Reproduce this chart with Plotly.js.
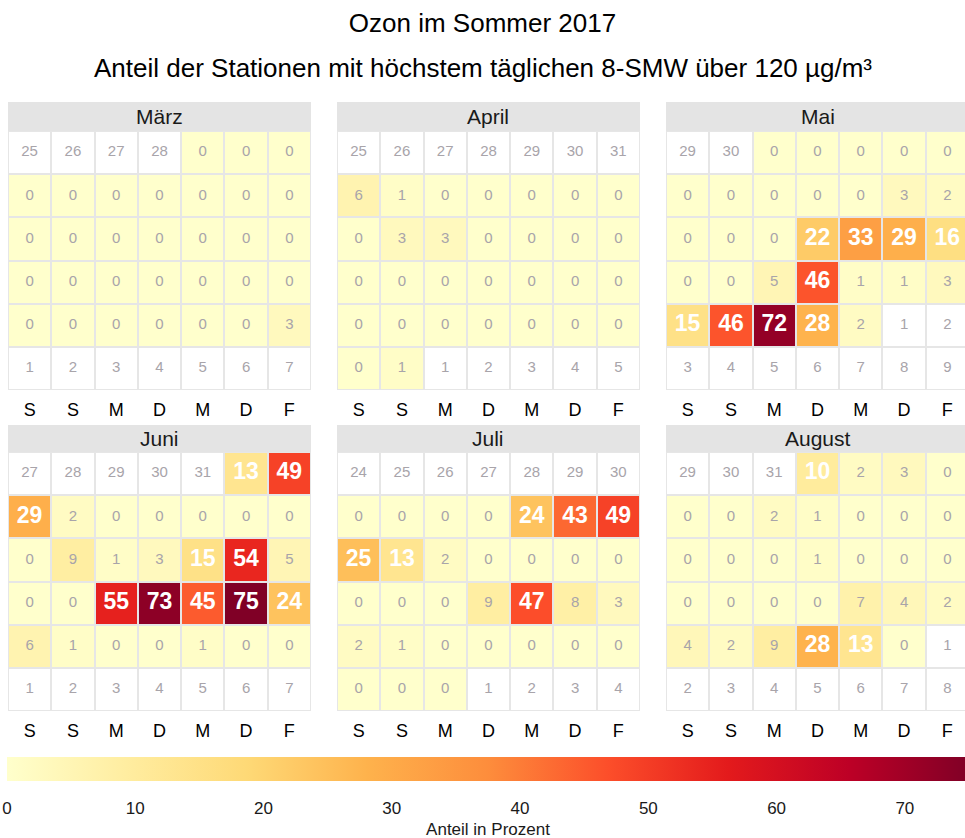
<!DOCTYPE html>
<html>
<head>
<meta charset="utf-8">
<script src="https://cdn.plot.ly/plotly-3.0.1.min.js"></script>
<style>html,body{margin:0;padding:0;background:#fff;}#chart{width:965px;height:838px;}</style>
</head>
<body>
<div id="chart"></div>
<script>
// ---------------- DATA ----------------
const year = 2017;
const monthNames = ['März', 'April', 'Mai', 'Juni', 'Juli', 'August'];
const monthIndex = [2, 3, 4, 5, 6, 7];           // JS month numbers
const weekdayLabels = ['S', 'S', 'M', 'D', 'M', 'D', 'F'];   // Sa..Fr

const valuesMaerz = [0,0,0, 0,0,0,0,0,0,0, 0,0,0,0,0,0,0, 0,0,0,0,0,0,0, 0,0,0,0,0,0,3];
const valuesApril = [6,1,0,0,0,0,0, 0,3,3,0,0,0,0, 0,0,0,0,0,0,0, 0,0,0,0,0,0,0, 0,1];
const valuesMai   = [0,0,0,0,0, 0,0,0,0,0,3,2, 0,0,0,22,33,29,16, 0,0,5,46,1,1,3, 15,46,72,28,2];
const valuesJuni  = [13,49, 29,2,0,0,0,0,0, 0,9,1,3,15,54,5, 0,0,55,73,45,75,24, 6,1,0,0,1,0,0];
const valuesJuli  = [0,0,0,0,24,43,49, 25,13,2,0,0,0,0, 0,0,0,9,47,8,3, 2,1,0,0,0,0,0, 0,0,0];
const valuesAugust= [10,2,3,0, 0,0,2,1,0,0,0, 0,0,0,1,0,0,0, 0,0,0,0,7,4,2, 4,2,9,28,13,0];
const monthValues = [valuesMaerz, valuesApril, valuesMai, valuesJuni, valuesJuli, valuesAugust];

const colorbarTicks = [0, 10, 20, 30, 40, 50, 60, 70];
const colorbarTitle = 'Anteil in Prozent';
const titleText = 'Ozon im Sommer 2017';
const subtitleText = 'Anteil der Stationen mit höchstem täglichen 8-SMW über 120 µg/m³';

// ---------------- STYLE ----------------
const W = 965, H = 838;
const FONT = 'Liberation Sans, Arial, sans-serif';
const ylorrd = ['#ffffcc','#ffeda0','#fed976','#feb24c','#fd8d3c','#fc4e2a','#e31a1c','#bd0026','#800026'];
const colorscale = ylorrd.map((c, i) => [i / (ylorrd.length - 1), c]);
const bigThreshold = 10;
const smallColor = '#a8a4aa';
const gridColor = '#e6e6e6';
const stripColor = '#e4e4e4';

const colPx = [[8, 311], [337, 640], [666, 969]];
const rowPx = [[131, 390], [452, 711]];
const stripPx = [[102, 131], [425, 452]];
const px = v => v / W;
const py = v => 1 - v / H;

const zmax = Math.max(...monthValues.flat());

// ------------- BUILD -------------
function buildCalendar(m, vals) {
  const first = new Date(year, m, 1);
  const offset = ((first.getDay() + 1) % 7) || 7; // Saturday-first weeks, always a leading row
  const z = [], cells = [];
  for (let r = 0; r < 6; r++) {
    const row = [];
    for (let c = 0; c < 7; c++) {
      const d = new Date(year, m, 1 - offset + r * 7 + c);
      const inMonth = d.getMonth() === m;
      const v = inMonth ? vals[d.getDate() - 1] : null;
      row.push(v);
      cells.push({ r, c, inMonth, v, day: d.getDate() });
    }
    z.push(row);
  }
  return { z, cells };
}

const traces = [];
const layout = {
  width: W, height: H,
  margin: { l: 0, r: 0, t: 0, b: 0, autoexpand: false },
  paper_bgcolor: '#ffffff',
  plot_bgcolor: gridColor,
  font: { family: FONT, color: '#000' },
  showlegend: false,
  title: {
    text: titleText,
    font: { family: FONT, size: 26, color: '#000' },
    x: 0.5, xanchor: 'center', xref: 'paper',
    y: py(23), yanchor: 'middle', yref: 'container'
  },
  annotations: [{
    text: subtitleText, xref: 'paper', yref: 'paper', x: 0.5, y: py(68),
    xanchor: 'center', yanchor: 'middle', showarrow: false,
    font: { family: FONT, size: 26, color: '#000' }
  }],
  shapes: []
};

monthNames.forEach((name, i) => {
  const col = i % 3, row = Math.floor(i / 3);
  const xa = 'x' + (i + 1), ya = 'y' + (i + 1);
  const xKey = 'xaxis' + (i + 1), yKey = 'yaxis' + (i + 1);
  const x0 = colPx[col][0], x1 = colPx[col][1];
  const x1c = Math.min(x1, W);
  const rangeEnd = -0.5 + 7 * (x1c - x0) / (x1 - x0);
  layout[xKey] = {
    domain: [px(x0), px(x1c)], anchor: ya, range: [-0.5, rangeEnd],
    showgrid: false, zeroline: false, showline: false, ticks: '',
    tickvals: [0, 1, 2, 3, 4, 5, 6], ticktext: weekdayLabels,
    tickfont: { family: FONT, size: 18, color: '#000' },
    ticklabelstandoff: 7, fixedrange: true
  };
  layout[yKey] = {
    domain: [py(rowPx[row][1]), py(rowPx[row][0])], anchor: xa,
    range: [5.5, -0.5], showgrid: false, zeroline: false, showline: false,
    showticklabels: false, ticks: '', fixedrange: true
  };

  // strip header
  layout.shapes.push({
    type: 'rect', xref: 'paper', yref: 'paper',
    x0: px(x0), x1: px(x1c), y0: py(stripPx[row][1]), y1: py(stripPx[row][0]),
    fillcolor: stripColor, line: { width: 0 }, layer: 'below'
  });
  layout.annotations.push({
    text: name, xref: 'paper', yref: 'paper',
    x: px((x0 + x1) / 2), y: py((stripPx[row][0] + stripPx[row][1]) / 2),
    xanchor: 'center', yanchor: 'middle', showarrow: false,
    font: { family: FONT, size: 21, color: '#1a1a1a' }
  });

  const cal = buildCalendar(monthIndex[i], monthValues[i]);
  const xs = [0, 1, 2, 3, 4, 5, 6], ys = [0, 1, 2, 3, 4, 5];

  // white base for all calendar cells
  traces.push({
    type: 'heatmap', x: xs, y: ys, z: cal.z.map(r => r.map(() => 0)),
    colorscale: [[0, '#ffffff'], [1, '#ffffff']], showscale: false,
    xgap: 2, ygap: 2, hoverinfo: 'skip', xaxis: xa, yaxis: ya
  });
  // values
  const hm = {
    type: 'heatmap', x: xs, y: ys, z: cal.z, zmin: 0, zmax: zmax,
    colorscale: colorscale, showscale: i === 0,
    xgap: 2, ygap: 2, hoverinfo: 'skip', xaxis: xa, yaxis: ya
  };
  if (i === 0) {
    hm.colorbar = {
      orientation: 'h', thicknessmode: 'pixels', thickness: 24,
      lenmode: 'pixels', len: 962, x: px(7), xanchor: 'left',
      y: py(757), yanchor: 'top', xpad: 0, ypad: 0, outlinewidth: 0,
      tickvals: colorbarTicks, ticktext: colorbarTicks.map(String),
      ticks: 'outside', ticklen: 13, tickcolor: 'rgba(0,0,0,0)',
      tickfont: { family: FONT, size: 17, color: '#1a1a1a' },
      title: { text: colorbarTitle, side: 'bottom', font: { family: FONT, size: 17, color: '#1a1a1a' } }
    };
  }
  traces.push(hm);

  const small = cal.cells.filter(c => !c.inMonth || c.v < bigThreshold);
  const big = cal.cells.filter(c => c.inMonth && c.v >= bigThreshold);
  traces.push({
    type: 'scatter', mode: 'text', xaxis: xa, yaxis: ya, hoverinfo: 'skip',
    x: small.map(c => c.c), y: small.map(c => c.r),
    text: small.map(c => String(c.inMonth ? c.v : c.day)),
    textfont: { family: FONT, size: 15, color: smallColor }, cliponaxis: false
  });
  traces.push({
    type: 'scatter', mode: 'text', xaxis: xa, yaxis: ya, hoverinfo: 'skip',
    x: big.map(c => c.c), y: big.map(c => c.r),
    text: big.map(c => String(c.v)),
    textfont: { family: FONT, size: 23, color: '#ffffff', weight: 'bold' }, cliponaxis: false
  });
});

Plotly.newPlot('chart', traces, layout, { displayModeBar: false, staticPlot: true });
</script>
</body>
</html>
